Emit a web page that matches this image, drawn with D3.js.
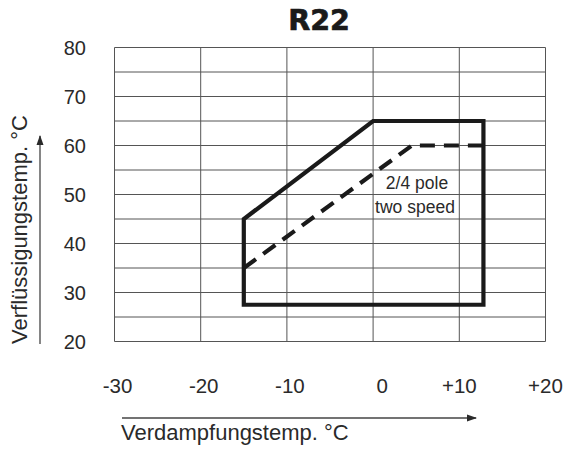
<!DOCTYPE html>
<html>
<head>
<meta charset="utf-8">
<script src="https://d3js.org/d3.v7.min.js"></script>
<style>
  body { margin: 0; background: #fff; }
  text { font-family: "Liberation Sans", Arial, sans-serif; fill: #2a2a2a; }
</style>
</head>
<body>
<div id="chart"></div>
<script>
// data
const xTicks = [-30, -20, -10, 0, 10, 20];
const xTickLabels = ["-30", "-20", "-10", "0", "+10", "+20"];
const yTicks = [20, 30, 40, 50, 60, 70, 80];
const yGrid = [20, 25, 30, 35, 40, 45, 50, 55, 60, 65, 70, 75, 80];

// operating envelope (solid)
const envelopeX = [-15, -15, 0, 12.8, 12.8];
const envelopeY = [27.5, 45, 65, 65, 27.5];
// 2/4 pole two speed limit (dashed)
const twoSpeedX = [-15, 4.5, 12.8];
const twoSpeedY = [35, 60, 60];

const width = 566, height = 449;
const margin = {left: 114.5, right: 20.5, top: 47.5, bottom: 107.5};

const svg = d3.select("#chart").append("svg")
  .attr("width", width)
  .attr("height", height);

const x = d3.scaleLinear().domain([-30, 20]).range([margin.left, width - margin.right]);
const y = d3.scaleLinear().domain([20, 80]).range([height - margin.bottom, margin.top]);

// grid
svg.append("g").selectAll("line").data(xTicks).join("line")
  .attr("x1", d => x(d)).attr("x2", d => x(d))
  .attr("y1", y(20)).attr("y2", y(80))
  .attr("stroke", "#555").attr("stroke-width", 1);

svg.append("g").selectAll("line").data(yGrid).join("line")
  .attr("x1", x(-30)).attr("x2", x(20))
  .attr("y1", d => y(d)).attr("y2", d => y(d))
  .attr("stroke", "#555").attr("stroke-width", 1);

// tick labels
svg.append("g").selectAll("text").data(yTicks).join("text")
  .attr("x", 86).attr("y", d => y(d)).attr("dy", "0.36em")
  .attr("text-anchor", "end").attr("font-size", 20)
  .text(d => d);

svg.append("g").selectAll("text").data(xTicks).join("text")
  .attr("x", d => x(d) + (d === 0 ? 9 : d < 0 ? 3 : 0)).attr("y", 393)
  .attr("text-anchor", "middle").attr("font-size", 20.5)
  .text((d, i) => xTickLabels[i]);

// title
svg.append("text")
  .attr("x", 319).attr("y", 30)
  .attr("text-anchor", "middle")
  .attr("font-size", 28.5).attr("font-weight", "bold")
  .style("font-family", "'DejaVu Sans', sans-serif")
  .style("fill", "#1a1a1a")
  .attr("stroke", "#1a1a1a").attr("stroke-width", 0.7)
  .text("R22");

// axis arrows
const defs = svg.append("defs");
defs.append("marker")
  .attr("id", "arrow").attr("viewBox", "0 0 10 10")
  .attr("refX", 9).attr("refY", 5)
  .attr("markerWidth", 10).attr("markerHeight", 10)
  .attr("markerUnits", "userSpaceOnUse")
  .attr("orient", "auto")
  .append("path").attr("d", "M0,1.5L10,5L0,8.5Z").attr("fill", "#2a2a2a");

svg.append("line")
  .attr("x1", 122).attr("x2", 476).attr("y1", 418).attr("y2", 418)
  .attr("stroke", "#444").attr("stroke-width", 1.3)
  .attr("marker-end", "url(#arrow)");

svg.append("text")
  .attr("x", 121).attr("y", 440)
  .attr("font-size", 22)
  .text("Verdampfungstemp. °C");

svg.append("line")
  .attr("x1", 40).attr("x2", 40).attr("y1", 344).attr("y2", 136)
  .attr("stroke", "#444").attr("stroke-width", 1.3)
  .attr("marker-end", "url(#arrow)");

svg.append("text")
  .attr("transform", "translate(27,344) rotate(-90)")
  .attr("font-size", 22)
  .text("Verflüssigungstemp. °C");

// envelope lines
const line = d3.line().x(d => x(d[0])).y(d => y(d[1]));

const envelope = envelopeX.map((v, i) => [v, envelopeY[i]]);
svg.append("path")
  .attr("d", line(envelope) + "Z")
  .attr("fill", "none").attr("stroke", "#1a1a1a")
  .attr("stroke-width", 4.2).attr("stroke-linejoin", "miter");

const twoSpeed = twoSpeedX.map((v, i) => [v, twoSpeedY[i]]);
svg.append("path")
  .attr("d", line(twoSpeed))
  .attr("fill", "none").attr("stroke", "#1a1a1a")
  .attr("stroke-width", 4.2).attr("stroke-dasharray", "15,9");

// annotation
svg.append("text")
  .attr("x", 417).attr("y", 189)
  .attr("text-anchor", "middle").attr("font-size", 17.5)
  .text("2/4 pole");
svg.append("text")
  .attr("x", 415).attr("y", 213)
  .attr("text-anchor", "middle").attr("font-size", 17.5)
  .text("two speed");
</script>
</body>
</html>
